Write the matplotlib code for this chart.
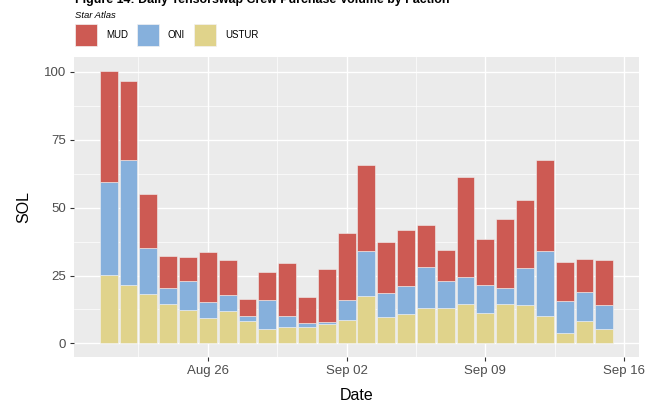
import numpy as np
import pandas as pd
import matplotlib
matplotlib.use('Agg')
import matplotlib.pyplot as plt
import matplotlib.dates as mdates
from matplotlib.patches import Patch

# Daily purchase volume (SOL) per faction
dates = pd.date_range('2022-08-21', '2022-09-15', freq='D')
ustur = [25.1, 21.4, 18.2, 14.4, 12.4, 9.3, 12.0, 8.2, 5.2, 5.9, 6.1, 7.2, 8.6,
         17.5, 9.7, 10.9, 13.1, 13.0, 14.4, 11.2, 14.4, 14.0, 10.0, 3.8, 8.4, 5.3]
oni = [34.2, 46.2, 17.1, 5.9, 10.6, 5.8, 5.7, 1.9, 10.6, 4.3, 1.5, 0.7, 7.2,
       16.7, 8.7, 10.1, 15.0, 9.9, 10.0, 10.2, 5.9, 13.8, 24.2, 11.8, 10.4, 8.7]
mud = [41.2, 29.2, 19.6, 11.8, 8.8, 18.6, 13.1, 6.2, 10.4, 19.3, 9.5, 19.4, 24.7,
       31.4, 19.1, 20.6, 15.4, 11.4, 36.8, 17.1, 25.6, 25.1, 33.2, 14.3, 12.4, 16.8]

factions = ['MUD', 'ONI', 'USTUR']
colors = {'MUD': '#CD5A53', 'ONI': '#86B0DC', 'USTUR': '#E0D38B'}

plt.rcParams['font.family'] = ['Liberation Sans', 'DejaVu Sans']

fig = plt.figure(figsize=(6.55, 4.03), dpi=100)
ax = fig.add_axes([74 / 655, 1 - 357 / 403, (639 - 74) / 655, (357 - 57) / 403])
ax.set_facecolor('#EBEBEB')
for s in ax.spines.values():
    s.set_visible(False)

x = mdates.date2num(dates)
bottom = np.zeros(len(x))
# stack from the bottom: USTUR, ONI, MUD
for name, vals in [('USTUR', ustur), ('ONI', oni), ('MUD', mud)]:
    ax.bar(x, vals, width=0.9, bottom=bottom, color=colors[name],
           edgecolor='#F2F2F2', linewidth=0.4, zorder=3)
    bottom += np.array(vals)

# axis limits like ggplot's 5% expansion
xmin, xmax = x.min() - 0.45, x.max() + 0.45
pad = (xmax - xmin) * 0.05
ax.set_xlim(xmin - pad, xmax + pad)
ytop = bottom.max()
ax.set_ylim(-ytop * 0.05, ytop * 1.05)

ax.set_yticks([0, 25, 50, 75, 100])
ax.set_yticks([12.5, 37.5, 62.5, 87.5], minor=True)
major_dates = pd.to_datetime(['2022-08-26', '2022-09-02', '2022-09-09', '2022-09-16'])
ax.set_xticks(mdates.date2num(major_dates))
ax.set_xticks(mdates.date2num(major_dates - pd.Timedelta(hours=84)), minor=True)
ax.xaxis.set_major_formatter(mdates.DateFormatter('%b %d'))

ax.grid(which='major', color='white', linewidth=1.0, zorder=0)
ax.grid(which='minor', color='white', linewidth=0.5, zorder=0)
ax.set_axisbelow(True)
ax.tick_params(which='major', length=3, width=0.8, color='#333333',
               labelcolor='#4D4D4D', labelsize=9.5, pad=2.5)
ax.tick_params(which='minor', length=0)

ax.set_xlabel('Date', fontsize=11.5, labelpad=8)
ax.set_ylabel('SOL', fontsize=11.5, labelpad=9)

# title (cut off at the top edge in the original) and subtitle
fig.text(75 / 655, 1 - 3 / 403, 'Figure 14: Daily Tensorswap Crew Purchase Volume by Faction',
         fontsize=8.9, fontweight='bold', ha='left', va='baseline')
fig.text(75 / 655, 1 - 15 / 403, 'Star Atlas', fontsize=6.8, fontstyle='italic',
         ha='left', va='center')

handles = [Patch(facecolor=colors[f], edgecolor='#F2F2F2', linewidth=0.5) for f in factions]
fig.legend(handles, factions, loc='upper left', bbox_to_anchor=(75 / 655, 1 - 24 / 403),
           ncol=3, frameon=False, fontsize=7, handlelength=2.3, handleheight=3.1,
           handletextpad=0.9, columnspacing=0.9, borderpad=0, borderaxespad=0)

fig.savefig('out.png', dpi=100)
